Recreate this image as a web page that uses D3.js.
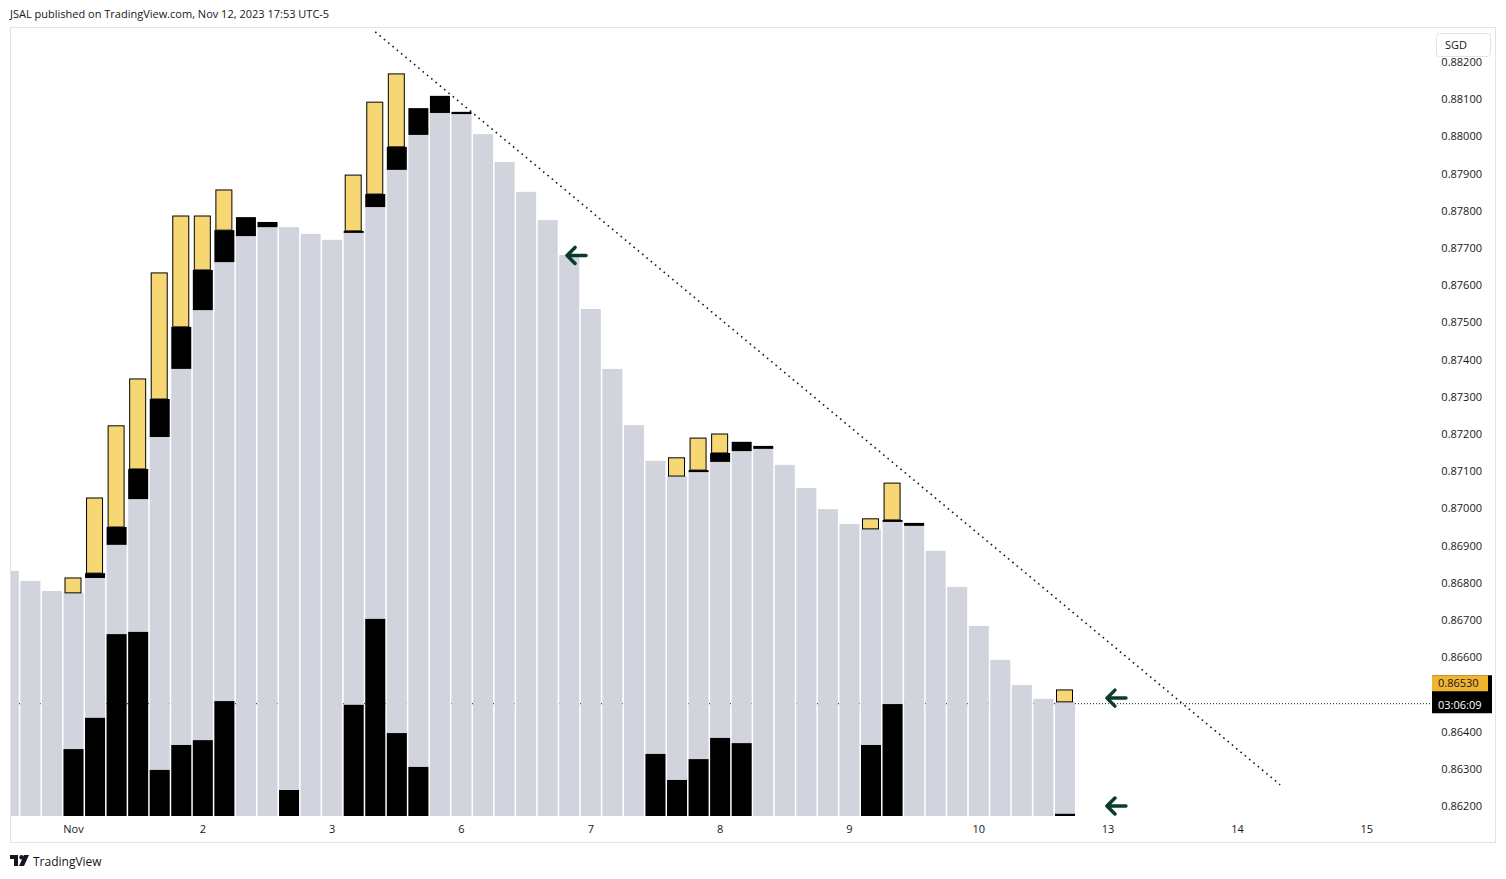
<!DOCTYPE html>
<html>
<head>
<meta charset="utf-8">
<script src="https://cdn.jsdelivr.net/npm/d3@7.9.0/dist/d3.min.js"></script>
<style>
  body { margin: 0; background: #fff; font-family: "Open Sans", "Noto Sans", sans-serif; }
  text { font-family: "Open Sans", "Noto Sans", sans-serif; }
</style>
</head>
<body>
<svg id="chart" width="1506" height="879"></svg>
<script>
// gray body top per 4h bar
const grayTop = [0.86832, 0.86805, 0.86778, 0.86773, 0.86813, 0.86902, 0.87025, 0.87192, 0.87375, 0.87533,
  0.87662, 0.87732, 0.87756, 0.87756, 0.87738, 0.87722, 0.87743, 0.87810, 0.87910, 0.88004,
  0.88063, 0.88060, 0.88006, 0.87931, 0.87851, 0.87775, 0.87681, 0.87536, 0.87375, 0.87224,
  0.87128, 0.87087, 0.87098, 0.87125, 0.87154, 0.87160, 0.87117, 0.87055, 0.86998, 0.86958,
  0.86945, 0.86964, 0.86953, 0.86886, 0.86789, 0.86684, 0.86593, 0.86525, 0.86488, 0.86480];
// black segment top sitting on gray (null = none)
const blackTop = [null, null, null, null, 0.86826, 0.86950, 0.87106, 0.87294, 0.87488, 0.87641,
  0.87748, 0.87783, 0.87770, null, null, null, 0.87746, 0.87845, 0.87972, 0.88076,
  0.88109, 0.88066, null, null, null, null, null, null, null, null,
  null, null, 0.87103, 0.87149, 0.87179, 0.87168, null, null, null, null,
  null, 0.86969, 0.86961, null, null, null, null, null, null, null];
// yellow segment top (null = none)
const yellowTop = [null, null, null, 0.86813, 0.87028, 0.87222, 0.87348, 0.87633, 0.87786, 0.87786,
  0.87856, null, null, null, null, null, 0.87896, 0.88092, 0.88168, null,
  null, null, null, null, null, null, null, null, null, null,
  null, 0.87136, 0.87189, 0.87200, null, null, null, null, null, null,
  0.86972, 0.87068, null, null, null, null, null, null, null, 0.86512];
// black bars rising from the bottom (null = none)
const bottomBlack = [null, null, null, 0.86353, 0.86437, 0.86662, 0.86668, 0.86297, 0.86364, 0.86377,
  0.86482, null, null, 0.86243, null, null, 0.86472, 0.86703, 0.86396, 0.86305,
  null, null, null, null, null, null, null, null, null, null,
  0.86340, 0.86270, 0.86326, 0.86383, 0.86369, null, null, null, null, null,
  0.86364, 0.86474, null, null, null, null, null, null, null, 0.86179];
const dayTickIndex = [3, 9, 15, 21, 27, 33, 39, 45, 51, 57, 63];
const dayTickLabel = ['Nov', '2', '3', '6', '7', '8', '9', '10', '13', '14', '15'];
// 0.86500 sits under the last-price labels, so it is not shown
const priceTicks = [0.882, 0.881, 0.880, 0.879, 0.878, 0.877, 0.876, 0.875, 0.874, 0.873, 0.872,
  0.871, 0.870, 0.869, 0.868, 0.867, 0.866, 0.864, 0.863, 0.862];
const lastPrice = 0.86530;
const priceLine = 0.86475;
const trendStart = [17.0, 0.88281];
const trendEnd = [58.98, 0.86257];
const arrows = [[25.85, 0.87680], [50.9, 0.86490], [50.9, 0.86200]];

const svg = d3.select('#chart');
const plotLeft = 10, plotRight = 1432, plotTop = 27, plotBottom = 816;
const x = d3.scaleLinear().domain([3, 49]).range([73.5, 1065]);
const y = d3.scaleLinear().domain([0.862, 0.882]).range([806, 62]);
const bw = 20;

svg.append('text').attr('x', 10).attr('y', 18).attr('font-size', 11).attr('fill', '#131722')
  .text('JSAL published on TradingView.com, Nov 12, 2023 17:53 UTC-5');

// frame
svg.append('rect').attr('x', 10.5).attr('y', 27.5).attr('width', 1485).attr('height', 815)
  .attr('fill', 'none').attr('stroke', '#e0e3eb');

const plot = svg.append('g');
plot.append('clipPath').attr('id', 'clip').append('rect')
  .attr('x', plotLeft + 1).attr('y', plotTop).attr('width', plotRight - plotLeft - 1).attr('height', plotBottom - plotTop);
const g = plot.append('g').attr('clip-path', 'url(#clip)');

g.append('line').attr('x1', plotLeft).attr('x2', plotRight).attr('y1', y(priceLine)).attr('y2', y(priceLine))
  .attr('stroke', '#131722').attr('stroke-width', 1).attr('stroke-dasharray', '1,2');

const idx = d3.range(grayTop.length);
g.selectAll('.gray').data(idx).join('rect')
  .attr('x', i => x(i) - bw / 2).attr('width', bw)
  .attr('y', i => y(grayTop[i])).attr('height', i => plotBottom - y(grayTop[i]))
  .attr('fill', '#d1d4dc');

g.selectAll('.blk').data(idx.filter(i => blackTop[i] != null)).join('rect')
  .attr('x', i => x(i) - bw / 2).attr('width', bw)
  .attr('y', i => y(blackTop[i])).attr('height', i => Math.max(2, y(grayTop[i]) - y(blackTop[i])))
  .attr('fill', '#000');

g.selectAll('.yel').data(idx.filter(i => yellowTop[i] != null)).join('rect')
  .attr('x', i => x(i) - 8.5).attr('width', 16)
  .attr('y', i => y(yellowTop[i]))
  .attr('height', i => y(blackTop[i] != null ? blackTop[i] : grayTop[i]) - y(yellowTop[i]))
  .attr('fill', '#f7d774').attr('stroke', '#000').attr('stroke-width', 1);

g.selectAll('.bot').data(idx.filter(i => bottomBlack[i] != null)).join('rect')
  .attr('x', i => x(i) - bw / 2).attr('width', bw)
  .attr('y', i => y(bottomBlack[i])).attr('height', i => Math.max(2, plotBottom - y(bottomBlack[i])))
  .attr('fill', '#000');

// trend line
g.append('line')
  .attr('x1', x(trendStart[0])).attr('y1', y(trendStart[1]))
  .attr('x2', x(trendEnd[0])).attr('y2', y(trendEnd[1]))
  .attr('stroke', '#131722').attr('stroke-width', 1.6).attr('stroke-dasharray', '1.6,4');

// arrows
arrows.forEach(([i, v]) => {
  const ax = x(i), ay = y(v);
  g.append('path')
    .attr('d', `M${ax + 20},${ay} L${ax + 1},${ay} M${ax + 9},${ay - 8} L${ax + 1},${ay} L${ax + 9},${ay + 8}`)
    .attr('fill', 'none').attr('stroke', '#0b3b2c').attr('stroke-width', 3.5)
    .attr('stroke-linecap', 'round').attr('stroke-linejoin', 'round');
});

// price axis
svg.selectAll('.pt').data(priceTicks).join('text')
  .attr('x', 1482).attr('y', d => y(d) + 4).attr('text-anchor', 'end')
  .attr('font-size', 11).attr('fill', '#131722').text(d => d.toFixed(5));

svg.append('rect').attr('x', 1436.5).attr('y', 33.5).attr('width', 54).attr('height', 23).attr('rx', 3)
  .attr('fill', '#fff').attr('stroke', '#e0e3eb');
svg.append('text').attr('x', 1445).attr('y', 49).attr('font-size', 11).attr('fill', '#131722').text('SGD');

svg.append('rect').attr('x', 1432).attr('y', y(lastPrice) - 8).attr('width', 60).attr('height', 38).attr('fill', '#000');
svg.append('rect').attr('x', 1432).attr('y', y(lastPrice) - 8).attr('width', 56).attr('height', 16).attr('fill', '#f0b431');
svg.append('text').attr('x', 1438).attr('y', y(lastPrice) + 4).attr('font-size', 11).attr('fill', '#131722').text(lastPrice.toFixed(5));
svg.append('text').attr('x', 1438).attr('y', y(lastPrice) + 26).attr('font-size', 11).attr('fill', '#fff').text('03:06:09');

// time axis
svg.selectAll('.dt').data(dayTickIndex).join('text')
  .attr('x', (d) => x(d)).attr('y', 833).attr('text-anchor', 'middle')
  .attr('font-size', 11).attr('fill', '#131722')
  .text((d, k) => dayTickLabel[k]);

// footer
const logo = svg.append('g').attr('transform', 'translate(10,855)');
logo.append('path').attr('d', 'M0,0 H8 V11 H4 V4 H0 Z').attr('fill', '#131722');
logo.append('circle').attr('cx', 11.5).attr('cy', 2.2).attr('r', 2.2).attr('fill', '#131722');
logo.append('path').attr('d', 'M14,0 H19 L14,11 H9 Z').attr('fill', '#131722');
svg.append('text').attr('x', 33).attr('y', 866).attr('font-size', 12).attr('fill', '#131722').text('TradingView');
</script>
</body>
</html>
